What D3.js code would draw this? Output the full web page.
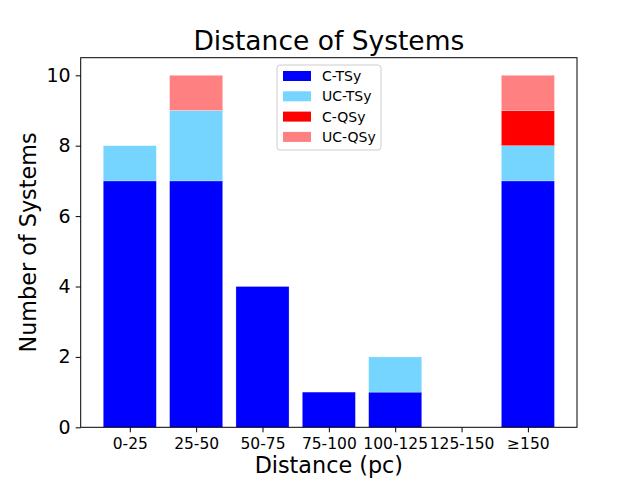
<!DOCTYPE html>
<html>
<head>
<meta charset="utf-8">
<script src="https://cdn.jsdelivr.net/npm/d3@7"></script>
<style>
  body { margin: 0; background: #fff; }
  svg { font-family: "DejaVu Sans", sans-serif; }
</style>
</head>
<body>
<div id="chart"></div>
<script>
// distance bins
const bins = ["0-25", "25-50", "50-75", "75-100", "100-125", "125-150", "\u2265150"];
const seriesNames = ["C-TSy", "UC-TSy", "C-QSy", "UC-QSy"];
const cTSy = [7, 7, 4, 1, 1, 0, 7];
const ucTSy = [1, 2, 0, 0, 1, 0, 1];
const cQSy = [0, 0, 0, 0, 0, 0, 1];
const ucQSy = [0, 1, 0, 0, 0, 0, 1];
const yTicks = [0, 2, 4, 6, 8, 10];
const colors = ["#0000ff", "#75d5ff", "#ff0000", "#ff8080"];

const width = 642, height = 481;
const margin = { top: 57.7, right: 65, bottom: 53.7, left: 80.7 };

const svg = d3.select("#chart").append("svg")
  .attr("width", width).attr("height", height);

const innerW = width - margin.left - margin.right;
const innerH = height - margin.top - margin.bottom;

const g = svg.append("g")
  .attr("transform", "translate(" + margin.left + "," + margin.top + ")");

// matplotlib-ish: index positions, bar width 0.8, margins 0.05
const x = d3.scaleLinear().domain([-0.74, 6.74]).range([0, innerW]);
const y = d3.scaleLinear().domain([0, 10.5]).range([innerH, 0]);

const rows = bins.map((b, i) => ({
  bin: b, i: i,
  "C-TSy": cTSy[i], "UC-TSy": ucTSy[i], "C-QSy": cQSy[i], "UC-QSy": ucQSy[i]
}));
const stacked = d3.stack().keys(seriesNames)(rows);
const bw = x(0.4) - x(-0.4);

stacked.forEach((layer, k) => {
  g.append("g")
    .selectAll("rect")
    .data(layer.filter(d => d[1] - d[0] > 0))
    .enter()
    .append("rect")
    .attr("x", d => x(d.data.i) - bw / 2)
    .attr("width", bw)
    .attr("y", d => y(d[1]))
    .attr("height", d => y(d[0]) - y(d[1]))
    .attr("fill", colors[k])
    .attr("stroke", "#ffffff")
    .attr("stroke-opacity", 0.5)
    .attr("stroke-width", 0.5);
});

// axes
const xAxis = d3.axisBottom(x).tickValues(d3.range(bins.length))
  .tickFormat(i => bins[i]).tickSize(5).tickPadding(6);
const yAxis = d3.axisLeft(y).tickValues(yTicks).tickSize(5).tickPadding(5);

const gx = g.append("g").attr("transform", "translate(0," + innerH + ")").call(xAxis);
gx.select(".domain").remove();
gx.selectAll("text").attr("font-size", 15.5).attr("fill", "#000")
  .attr("font-family", "DejaVu Sans");
gx.selectAll("line").attr("stroke", "#000");

const gy = g.append("g").call(yAxis);
gy.select(".domain").remove();
gy.selectAll("text").attr("font-size", 19).attr("fill", "#000")
  .attr("font-family", "DejaVu Sans");
gy.selectAll("line").attr("stroke", "#000");

// frame
g.append("rect")
  .attr("x", 0).attr("y", 0).attr("width", innerW).attr("height", innerH)
  .attr("fill", "none").attr("stroke", "#000").attr("stroke-width", 1);

// title + labels
svg.append("text")
  .attr("x", margin.left + innerW / 2).attr("y", 50)
  .attr("text-anchor", "middle").attr("font-size", 26.5)
  .text("Distance of Systems");

svg.append("text")
  .attr("x", margin.left + innerW / 2).attr("y", 473)
  .attr("text-anchor", "middle").attr("font-size", 22.3)
  .text("Distance (pc)");

svg.append("text")
  .attr("transform", "translate(36," + (margin.top + innerH / 2) + ") rotate(-90)")
  .attr("text-anchor", "middle").attr("font-size", 22.3)
  .text("Number of Systems");

// legend
const lg = svg.append("g").attr("transform", "translate(277,65)");
lg.append("rect")
  .attr("width", 104).attr("height", 85).attr("rx", 3)
  .attr("fill", "#fff").attr("fill-opacity", 0.8)
  .attr("stroke", "#cccccc").attr("stroke-width", 1);

seriesNames.forEach((name, k) => {
  const row = lg.append("g").attr("transform", "translate(0," + (11 + k * 20.3) + ")");
  row.append("rect")
    .attr("x", 6).attr("y", -5).attr("width", 28).attr("height", 10)
    .attr("fill", colors[k]);
  row.append("text")
    .attr("x", 45).attr("y", 5).attr("font-size", 14)
    .text(name);
});
</script>
</body>
</html>
